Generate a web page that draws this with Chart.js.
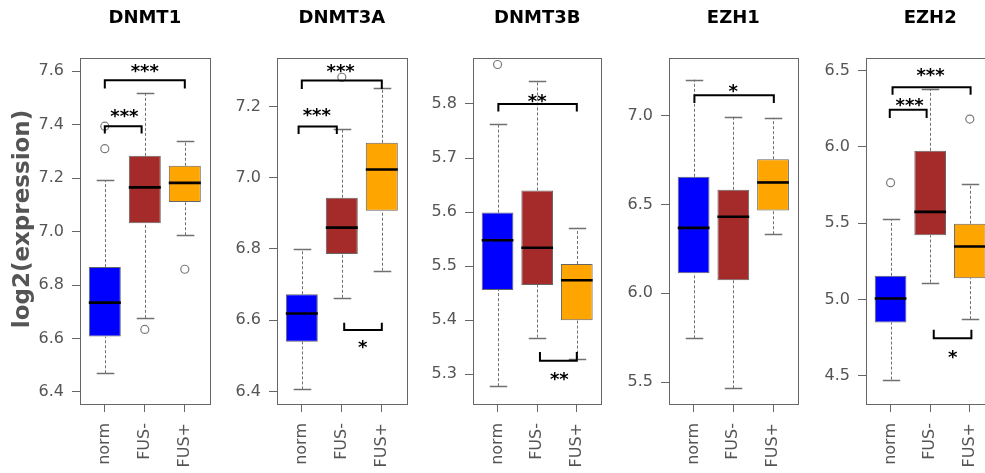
<!DOCTYPE html>
<html>
<head>
<meta charset="utf-8">
<script src="https://cdn.jsdelivr.net/npm/chart.js@4.4.0/dist/chart.umd.min.js"></script>
<style>
  body { margin: 0; background: #fff; overflow: hidden; }
  #wrap { position: relative; width: 985px; height: 473px; overflow: hidden; }
  #wrap canvas { position: absolute; top: 0; }
</style>
</head>
<body>
<div id="wrap"></div>
<script>
// genes and sample groups
const genes = ['DNMT1', 'DNMT3A', 'DNMT3B', 'EZH1', 'EZH2'];
const groups = ['norm', 'FUS-', 'FUS+'];
const boxColors = ['#0000ff', '#a52a2a', '#ffa500'];

// boxplot stats per gene: [norm, FUS-, FUS+]
const whiskerLow = [
    [6.470, 6.677, 6.986],
    [6.406, 6.663, 6.739],
    [5.278, 5.368, 5.329],
    [5.747, 5.466, 6.332],
    [4.476, 5.112, 4.872]
];
const q1 = [
    [6.607, 7.031, 7.110],
    [6.540, 6.786, 6.907],
    [5.456, 5.465, 5.400],
    [6.113, 6.074, 6.466],
    [4.850, 5.422, 5.140]
];
const median = [
    [6.734, 7.165, 7.182],
    [6.619, 6.860, 7.023],
    [5.548, 5.534, 5.474],
    [6.368, 6.430, 6.623],
    [5.007, 5.575, 5.348]
];
const q3 = [
    [6.867, 7.283, 7.246],
    [6.673, 6.944, 7.098],
    [5.599, 5.640, 5.504],
    [6.655, 6.582, 6.754],
    [5.156, 5.975, 5.497]
];
const whiskerHigh = [
    [7.191, 7.519, 7.338],
    [6.800, 7.138, 7.251],
    [5.762, 5.842, 5.571],
    [7.201, 6.993, 6.987],
    [5.527, 6.380, 5.757]
];
// outliers: [group number, value]
const outliers = [
    [[1, 7.394], [1, 7.310], [2, 6.634], [3, 6.859]],
    [[2, 7.282]],
    [[1, 5.873]],
    [],
    [[1, 5.766], [3, 6.183]]
];

// y ranges and tick labels
const yMin = [6.355, 6.365, 5.245, 5.378, 4.316];
const yMax = [7.649, 7.336, 5.885, 7.3225, 6.583];
const yTicks = [
    [6.4, 6.6, 6.8, 7.0, 7.2, 7.4, 7.6],
    [6.4, 6.6, 6.8, 7.0, 7.2],
    [5.3, 5.4, 5.5, 5.6, 5.7, 5.8],
    [5.5, 6.0, 6.5, 7.0],
    [4.5, 5.0, 5.5, 6.0, 6.5]
];

// significance brackets: [x from, x to, y bar, y leg end, stars, star x, star y]
const sigBrackets = [
    [[1, 3, 7.566, 7.535, '***', 2.0, 7.616], [1, 1.92, 7.394, 7.367, '***', 1.49, 7.448]],
    [[1, 3, 7.273, 7.249, '***', 1.97, 7.312], [0.92, 1.875, 7.144, 7.123, '***', 1.375, 7.186],
     [2.06, 3.0, 6.573, 6.593, '*', 2.52, 6.535]],
    [[1.02, 3.0, 5.800, 5.786, '**', 2.0, 5.812], [2.07, 3.0, 5.325, 5.341, '**', 2.56, 5.299]],
    [[1.02, 3.02, 7.1125, 7.069, '*', 2.0, 7.159]],
    [[1.05, 3.02, 6.391, 6.343, '***', 2.01, 6.496], [0.98, 1.91, 6.244, 6.190, '***', 1.48, 6.303],
     [2.09, 3.04, 4.747, 4.802, '*', 2.57, 4.649]]
];

const plotLeft = [80, 277, 473, 669, 866];
const plotWidth = [132, 132, 131, 131, 131];
const FONT = "'DejaVu Sans', sans-serif";

Chart.defaults.font.family = FONT;

const crisp = v => Math.round(v) + 0.5;

// whiskers, medians, frame, brackets and titles
const boxExtras = {
    id: 'boxExtras',
    beforeDatasetsDraw(chart, args, opts) {
        const { ctx, scales: { x, y } } = chart;
        const k = opts.k;
        const capHalf = x.getPixelForValue(1.22) - x.getPixelForValue(1);
        ctx.save();
        ctx.strokeStyle = '#707070';
        ctx.lineWidth = 1;
        for (let i = 0; i < groups.length; i++) {
            const px = crisp(x.getPixelForValue(i + 1));
            ctx.setLineDash([3, 2]);
            ctx.beginPath();
            ctx.moveTo(px, y.getPixelForValue(whiskerLow[k][i]));
            ctx.lineTo(px, y.getPixelForValue(q1[k][i]));
            ctx.moveTo(px, y.getPixelForValue(q3[k][i]));
            ctx.lineTo(px, y.getPixelForValue(whiskerHigh[k][i]));
            ctx.stroke();
            ctx.setLineDash([]);
            ctx.lineWidth = 1.3;
            ctx.beginPath();
            [whiskerLow[k][i], whiskerHigh[k][i]].forEach(v => {
                const py = crisp(y.getPixelForValue(v));
                ctx.moveTo(px - capHalf, py);
                ctx.lineTo(px + capHalf, py);
            });
            ctx.stroke();
            ctx.lineWidth = 1;
        }
        ctx.restore();
    },
    afterDatasetsDraw(chart, args, opts) {
        const { ctx, chartArea: a, scales: { x, y } } = chart;
        const k = opts.k;
        ctx.save();

        // medians across the box width
        const meta = chart.getDatasetMeta(0);
        ctx.strokeStyle = '#000';
        ctx.lineWidth = 2.6;
        meta.data.forEach((bar, i) => {
            const py = y.getPixelForValue(median[k][i]);
            ctx.beginPath();
            ctx.moveTo(bar.x - bar.width / 2, py);
            ctx.lineTo(bar.x + bar.width / 2, py);
            ctx.stroke();
        });

        // plot frame
        ctx.strokeStyle = '#666';
        ctx.lineWidth = 1;
        ctx.strokeRect(crisp(a.left), crisp(a.top), Math.round(a.width), Math.round(a.height));

        // brackets and stars
        ctx.strokeStyle = '#000';
        ctx.fillStyle = '#000';
        ctx.lineWidth = 2;
        ctx.font = 'bold 18px ' + FONT;
        ctx.textAlign = 'center';
        ctx.textBaseline = 'alphabetic';
        sigBrackets[k].forEach(([x1, x2, yb, yl, stars, sx, sy]) => {
            const p1 = x.getPixelForValue(x1), p2 = x.getPixelForValue(x2);
            const pb = y.getPixelForValue(yb), pl = y.getPixelForValue(yl);
            ctx.beginPath();
            ctx.moveTo(p1, pl);
            ctx.lineTo(p1, pb);
            ctx.lineTo(p2, pb);
            ctx.lineTo(p2, pl);
            ctx.stroke();
            ctx.fillText(stars, x.getPixelForValue(sx), y.getPixelForValue(sy) + 10);
        });

        // gene title
        ctx.font = 'bold 18px ' + FONT;
        ctx.textBaseline = 'middle';
        ctx.fillText(genes[k], (a.left + a.right) / 2, 18);

        // shared y axis label on the first panel
        if (k === 0) {
            ctx.translate(23, 219);
            ctx.rotate(-Math.PI / 2);
            ctx.fillStyle = '#555';
            ctx.font = 'bold 23px ' + FONT;
            ctx.fillText('log2(expression)', 0, 0);
        }
        ctx.restore();
    }
};

const wrap = document.getElementById('wrap');

genes.forEach((gene, k) => {
    const axisW = k === 0 ? 80 : 60;
    const canvas = document.createElement('canvas');
    canvas.width = axisW + plotWidth[k] + 4;
    canvas.height = 473;
    canvas.style.left = (plotLeft[k] - axisW) + 'px';
    wrap.appendChild(canvas);

    new Chart(canvas.getContext('2d'), {
        type: 'bar',
        data: {
            datasets: [{
                data: groups.map((g, i) => ({ x: i + 1, y: [q1[k][i], q3[k][i]] })),
                backgroundColor: boxColors,
                borderColor: '#666',
                borderWidth: 1,
                borderSkipped: false,
                barPercentage: 1,
                categoryPercentage: 0.8
            }, {
                type: 'scatter',
                data: outliers[k].map(([g, v]) => ({ x: g, y: v })),
                pointStyle: 'circle',
                pointRadius: 4,
                backgroundColor: 'rgba(0,0,0,0)',
                borderColor: '#7a7a7a',
                borderWidth: 1.2
            }]
        },
        options: {
            responsive: false,
            animation: false,
            layout: { padding: { top: 58, right: 4, left: 0, bottom: 0 } },
            plugins: {
                legend: { display: false },
                tooltip: { enabled: false },
                boxExtras: { k: k }
            },
            scales: {
                x: {
                    type: 'linear',
                    min: 0.38,
                    max: 3.62,
                    offset: false,
                    afterBuildTicks: s => { s.ticks = [1, 2, 3].map(v => ({ value: v })); },
                    afterFit: s => { s.height = 69; },
                    grid: { offset: false, drawOnChartArea: false, tickLength: 8, tickColor: '#666' },
                    border: { display: false },
                    ticks: {
                        autoSkip: false,
                        minRotation: 90,
                        maxRotation: 90,
                        padding: 11,
                        color: '#555',
                        font: { size: 16 },
                        callback: (v, i) => groups[i]
                    }
                },
                y: {
                    min: yMin[k],
                    max: yMax[k],
                    afterBuildTicks: s => { s.ticks = yTicks[k].map(v => ({ value: v })); },
                    afterFit: s => { s.width = axisW; },
                    grid: { drawOnChartArea: false, tickLength: 8, tickColor: '#666' },
                    border: { display: false },
                    ticks: {
                        autoSkip: false,
                        padding: 8,
                        color: '#555',
                        font: { size: 16 },
                        callback: v => v.toFixed(1)
                    }
                }
            }
        },
        plugins: [boxExtras]
    });
});
</script>
</body>
</html>
